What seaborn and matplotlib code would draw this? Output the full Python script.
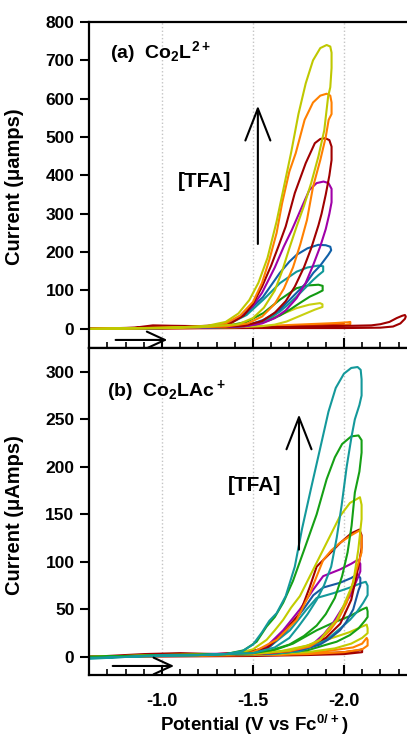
import numpy as np
import pandas as pd
import seaborn as sns
import matplotlib.pyplot as plt

# ---- panel (a) Co2L2+ : (potential V, current uA), forward then return sweep ----
a_yellow = [(-0.60, 0), (-0.90, 2), (-1.10, 4), (-1.25, 8), (-1.35, 18), (-1.42, 40), (-1.48, 75),
            (-1.53, 120), (-1.58, 185), (-1.63, 280), (-1.67, 370), (-1.71, 460), (-1.75, 560),
            (-1.79, 640), (-1.83, 700), (-1.87, 732), (-1.905, 740), (-1.925, 736), (-1.932, 720),
            (-1.932, 680), (-1.925, 630), (-1.913, 605), (-1.892, 518), (-1.86, 450), (-1.82, 380),
            (-1.78, 320), (-1.74, 267), (-1.70, 210), (-1.66, 150), (-1.62, 100), (-1.56, 55),
            (-1.50, 28), (-1.42, 12), (-1.20, 4), (-0.90, 1), (-0.60, 0)]
a_orange = [(-0.60, 0), (-0.90, 2), (-1.10, 4), (-1.25, 7), (-1.35, 14), (-1.43, 35), (-1.50, 70),
            (-1.55, 120), (-1.59, 180), (-1.63, 250), (-1.66, 327), (-1.70, 410), (-1.735, 458),
            (-1.784, 545), (-1.83, 590), (-1.87, 608), (-1.905, 613), (-1.925, 608), (-1.932, 590),
            (-1.932, 560), (-1.916, 545), (-1.90, 500), (-1.87, 440), (-1.83, 370), (-1.797, 284),
            (-1.76, 220), (-1.72, 160), (-1.67, 105), (-1.62, 65), (-1.55, 32), (-1.47, 14),
            (-1.35, 6), (-1.10, 3), (-0.60, 0)]
a_darkred = [(-0.60, 0), (-0.85, 3), (-0.95, 9), (-1.05, 8), (-1.20, 7), (-1.30, 9), (-1.38, 15),
             (-1.45, 35), (-1.50, 65), (-1.55, 110), (-1.60, 165), (-1.64, 215), (-1.68, 267),
             (-1.73, 354), (-1.79, 432), (-1.84, 484), (-1.87, 495), (-1.897, 497), (-1.92, 492),
             (-1.932, 475), (-1.932, 440), (-1.92, 400), (-1.90, 350), (-1.877, 300), (-1.86, 270),
             (-1.82, 210), (-1.78, 160), (-1.73, 110), (-1.68, 72), (-1.62, 42), (-1.55, 20),
             (-1.45, 8), (-1.30, 5), (-1.10, 5), (-0.90, 3), (-0.60, 0)]
a_purple = [(-0.60, 0), (-1.00, 3), (-1.20, 5), (-1.35, 12), (-1.43, 30), (-1.50, 60), (-1.55, 94),
            (-1.62, 160), (-1.67, 215), (-1.714, 258), (-1.77, 319), (-1.81, 362), (-1.85, 380),
            (-1.888, 384), (-1.915, 380), (-1.932, 365), (-1.932, 330), (-1.92, 300), (-1.90, 260),
            (-1.87, 215), (-1.83, 165), (-1.79, 120), (-1.74, 80), (-1.68, 48), (-1.62, 28),
            (-1.55, 14), (-1.45, 6), (-1.20, 3), (-0.60, 0)]
a_blue = [(-0.60, 0), (-1.00, 3), (-1.20, 5), (-1.30, 9), (-1.374, 16), (-1.465, 42), (-1.555, 83),
          (-1.648, 146), (-1.70, 175), (-1.74, 193), (-1.80, 210), (-1.859, 219), (-1.90, 218),
          (-1.925, 214), (-1.93, 205), (-1.914, 193), (-1.87, 165), (-1.832, 146), (-1.79, 118),
          (-1.74, 94), (-1.69, 70), (-1.648, 50), (-1.60, 35), (-1.555, 23), (-1.465, 8),
          (-1.30, 4), (-1.00, 2), (-0.60, 0)]
a_teal = [(-0.60, 0), (-1.00, 3), (-1.20, 5), (-1.30, 9), (-1.38, 16), (-1.465, 36), (-1.557, 76),
          (-1.648, 119), (-1.74, 149), (-1.80, 160), (-1.86, 165), (-1.886, 163), (-1.886, 150),
          (-1.86, 140), (-1.832, 128), (-1.79, 108), (-1.74, 84), (-1.69, 62), (-1.648, 45),
          (-1.60, 30), (-1.557, 19), (-1.47, 8), (-1.30, 4), (-0.60, 0)]
a_green = [(-0.60, 0), (-1.00, 3), (-1.20, 4), (-1.30, 7), (-1.38, 10), (-1.465, 18), (-1.557, 41),
           (-1.648, 76), (-1.74, 106), (-1.80, 113), (-1.86, 115), (-1.883, 112), (-1.883, 100),
           (-1.85, 92), (-1.813, 84), (-1.76, 68), (-1.703, 50), (-1.65, 35), (-1.593, 23),
           (-1.52, 12), (-1.40, 5), (-1.00, 2), (-0.60, 0)]
a_lime = [(-0.60, 0), (-1.00, 3), (-1.30, 6), (-1.45, 10), (-1.557, 19), (-1.648, 36), (-1.74, 54),
          (-1.81, 63), (-1.868, 67), (-1.882, 64), (-1.882, 57), (-1.84, 50), (-1.795, 41),
          (-1.74, 30), (-1.685, 19), (-1.62, 11), (-1.55, 7), (-1.40, 4), (-0.60, 0)]
a_orange2 = [(-0.60, 0), (-1.00, 3), (-1.40, 5), (-1.60, 8), (-1.80, 12), (-1.95, 15), (-2.02, 17),
             (-2.035, 18), (-2.035, 12), (-2.00, 9), (-1.90, 6), (-1.70, 4), (-1.40, 3), (-0.60, 0)]
a_red = [(-0.60, 0), (-1.00, 2), (-1.40, 4), (-1.60, 6), (-1.80, 9), (-1.95, 12), (-2.00, 13),
         (-2.00, 8), (-1.90, 5), (-1.70, 3), (-1.40, 2), (-0.60, 0)]
a_darkred2 = [(-0.60, 0), (-1.00, 2), (-1.50, 2), (-2.00, 2), (-2.20, 3), (-2.27, 6), (-2.31, 14),
              (-2.335, 26), (-2.34, 32), (-2.335, 36), (-2.32, 34), (-2.29, 28), (-2.25, 18),
              (-2.20, 12), (-2.15, 9), (-2.05, 8), (-1.90, 7), (-1.70, 5), (-1.40, 3), (-0.60, 0)]

# ---- panel (b) Co2LAc+ ----
b_teal = [(-0.60, -2), (-0.80, 0), (-1.00, 2), (-1.20, 2), (-1.35, 3), (-1.44, 6), (-1.50, 13),
          (-1.55, 26), (-1.59, 38), (-1.63, 46), (-1.68, 64), (-1.73, 95), (-1.77, 135),
          (-1.82, 178), (-1.87, 220), (-1.915, 258), (-1.955, 283), (-2.00, 298), (-2.04, 304),
          (-2.075, 305), (-2.092, 302), (-2.097, 292), (-2.097, 275), (-2.085, 265), (-2.06, 250),
          (-2.042, 232), (-2.015, 200), (-1.987, 159), (-1.96, 125), (-1.93, 95), (-1.89, 75),
          (-1.85, 60), (-1.80, 45), (-1.75, 32), (-1.70, 20), (-1.62, 10), (-1.50, 4),
          (-1.20, 2), (-0.60, -1)]
b_green = [(-0.60, 0), (-1.00, 2), (-1.35, 3), (-1.45, 7), (-1.52, 16), (-1.575, 32), (-1.62, 42),
           (-1.666, 57), (-1.72, 80), (-1.78, 112), (-1.85, 150), (-1.905, 187), (-1.95, 210),
           (-1.99, 224), (-2.04, 232), (-2.08, 233), (-2.097, 228), (-2.097, 215), (-2.085, 195),
           (-2.06, 173), (-2.042, 138), (-2.02, 110), (-1.99, 85), (-1.95, 62), (-1.90, 45),
           (-1.85, 33), (-1.78, 22), (-1.70, 13), (-1.60, 7), (-1.50, 4), (-1.20, 2), (-0.60, 0)]
b_yellow = [(-0.60, 0), (-1.00, 2), (-1.40, 3), (-1.50, 8), (-1.575, 18), (-1.62, 28), (-1.666, 39),
            (-1.71, 52), (-1.758, 64), (-1.813, 85), (-1.868, 106), (-1.923, 127), (-1.978, 148),
            (-2.033, 162), (-2.088, 168), (-2.097, 160), (-2.097, 145), (-2.079, 113), (-2.051, 78),
            (-1.996, 53), (-1.96, 39), (-1.91, 28), (-1.868, 18), (-1.80, 12), (-1.70, 7),
            (-1.55, 4), (-1.20, 2), (-0.60, 0)]
b_darkred = [(-0.60, 0), (-0.90, 3), (-1.10, 4), (-1.30, 3), (-1.45, 5), (-1.575, 9), (-1.666, 25),
             (-1.758, 46), (-1.813, 74), (-1.85, 95), (-1.923, 109), (-1.98, 120), (-2.04, 130),
             (-2.085, 134), (-2.097, 128), (-2.097, 115), (-2.08, 95), (-2.04, 60), (-1.98, 35),
             (-1.90, 20), (-1.80, 11), (-1.70, 6), (-1.50, 3), (-1.10, 2), (-0.60, 0)]
b_orange = [(-0.60, 0), (-1.00, 2), (-1.40, 3), (-1.50, 5), (-1.63, 18), (-1.74, 39), (-1.813, 67),
            (-1.886, 102), (-1.93, 112), (-1.978, 120), (-2.04, 128), (-2.085, 133), (-2.097, 126),
            (-2.097, 110), (-2.069, 92), (-2.04, 72), (-2.015, 57), (-1.97, 40), (-1.923, 28),
            (-1.87, 18), (-1.813, 11), (-1.70, 6), (-1.50, 3), (-1.10, 2), (-0.60, 0)]
b_purple = [(-0.60, 0), (-1.00, 2), (-1.45, 4), (-1.52, 7), (-1.575, 11), (-1.666, 28), (-1.758, 50),
            (-1.832, 71), (-1.886, 85), (-1.978, 92), (-2.04, 98), (-2.075, 102), (-2.09, 98),
            (-2.09, 90), (-2.08, 85), (-2.033, 64), (-1.98, 48), (-1.941, 36), (-1.89, 24),
            (-1.832, 14), (-1.75, 8), (-1.60, 4), (-1.20, 2), (-0.60, 0)]
b_blue = [(-0.60, 0), (-1.00, 2), (-1.45, 3), (-1.52, 6), (-1.593, 11), (-1.685, 28), (-1.777, 50),
          (-1.832, 65), (-1.886, 73), (-1.978, 78), (-2.04, 83), (-2.075, 87), (-2.09, 83),
          (-2.09, 75), (-2.08, 70), (-2.051, 50), (-2.01, 36), (-1.978, 28), (-1.92, 19),
          (-1.868, 13), (-1.78, 8), (-1.60, 4), (-1.20, 2), (-0.60, 0)]
b_teal2 = [(-0.60, 0), (-1.00, 2), (-1.45, 3), (-1.52, 6), (-1.593, 11), (-1.703, 28), (-1.795, 50),
           (-1.85, 62), (-1.941, 67), (-2.033, 73), (-2.10, 78), (-2.12, 79), (-2.13, 75),
           (-2.13, 65), (-2.106, 57), (-2.07, 47), (-2.033, 39), (-1.98, 30), (-1.923, 21),
           (-1.85, 13), (-1.758, 6), (-1.60, 3), (-1.20, 2), (-0.60, 0)]
b_green2 = [(-0.60, 0), (-1.00, 2), (-1.50, 3), (-1.60, 6), (-1.72, 14), (-1.85, 28), (-1.941, 36),
            (-2.033, 43), (-2.10, 50), (-2.125, 52), (-2.13, 48), (-2.13, 42), (-2.115, 38),
            (-2.08, 30), (-2.033, 23), (-1.96, 16), (-1.905, 13), (-1.80, 7), (-1.65, 4),
            (-1.20, 2), (-0.60, 0)]
b_yellow2 = [(-0.60, 0), (-1.00, 2), (-1.50, 3), (-1.65, 6), (-1.80, 12), (-1.92, 19), (-2.03, 26),
             (-2.10, 32), (-2.125, 34), (-2.13, 30), (-2.13, 25), (-2.10, 20), (-2.04, 14),
             (-1.95, 9), (-1.80, 5), (-1.60, 3), (-0.60, 0)]
b_orange2 = [(-0.60, 0), (-1.00, 2), (-1.50, 2), (-1.70, 3), (-1.90, 6), (-2.05, 10), (-2.10, 14),
             (-2.125, 20), (-2.13, 18), (-2.13, 12), (-2.10, 8), (-2.00, 5), (-1.80, 3),
             (-1.50, 2), (-0.60, 0)]
b_red = [(-0.60, 0), (-1.00, 2), (-1.50, 2), (-1.80, 3), (-2.00, 5), (-2.08, 7), (-2.10, 8),
         (-2.10, 5), (-2.00, 3), (-1.80, 2), (-1.50, 1), (-0.60, 0)]

loops_a = [("a_red", a_red, "#e02a00"), ("a_orange2", a_orange2, "#ff8000"),
           ("a_darkred2", a_darkred2, "#a00000"), ("a_lime", a_lime, "#c8d010"),
           ("a_green", a_green, "#129a12"), ("a_teal", a_teal, "#109898"),
           ("a_blue", a_blue, "#1060a8"), ("a_purple", a_purple, "#a000a8"),
           ("a_darkred", a_darkred, "#a00000"), ("a_orange", a_orange, "#ff8000"),
           ("a_yellow", a_yellow, "#bfc800")]
loops_b = [("b_red", b_red, "#a00000"), ("b_orange2", b_orange2, "#ff8000"),
           ("b_yellow2", b_yellow2, "#c2cc00"), ("b_green2", b_green2, "#15a015"),
           ("b_teal2", b_teal2, "#14999b"), ("b_blue", b_blue, "#1858a0"),
           ("b_purple", b_purple, "#a000a8"), ("b_darkred", b_darkred, "#a00000"),
           ("b_orange", b_orange, "#ff8000"), ("b_yellow", b_yellow, "#c2cc00"),
           ("b_green", b_green, "#15a015"), ("b_teal", b_teal, "#14999b")]


def to_frame(loops):
    rows = []
    for name, pts, _ in loops:
        for v, i in pts:
            rows.append((name, v, i))
    return pd.DataFrame(rows, columns=["loop", "V", "I"])


sns.set_style("ticks")
plt.rcParams["font.family"] = ["Liberation Sans", "DejaVu Sans"]
plt.rcParams["font.weight"] = "bold"
plt.rcParams["mathtext.fontset"] = "custom"
plt.rcParams["mathtext.bf"] = "Liberation Sans:bold"
plt.rcParams["mathtext.rm"] = "Liberation Sans:bold"
plt.rcParams["mathtext.default"] = "bf"
for key in ("text.color", "axes.labelcolor", "xtick.color", "ytick.color", "axes.edgecolor"):
    plt.rcParams[key] = "black"

fig = plt.figure(figsize=(4.07, 7.39), dpi=100)
ax1 = fig.add_axes([89 / 407, 1 - 348 / 739, 331 / 407, 326 / 739])
ax2 = fig.add_axes([89 / 407, 1 - 675 / 739, 331 / 407, 327 / 739])

for ax, loops in ((ax1, loops_a), (ax2, loops_b)):
    df = to_frame(loops)
    pal = {name: c for name, _, c in loops}
    for v in (-1.0, -1.5, -2.0):
        ax.axvline(v, color="#c4c4c4", ls=":", lw=1.0, zorder=0)
    sns.lineplot(data=df, x="V", y="I", hue="loop", palette=pal, sort=False,
                 estimator=None, legend=False, lw=1.5, ax=ax)
    ax.set_xlim(-0.599, -2.418)
    for s in ax.spines.values():
        s.set_linewidth(1.6)
    ax.xaxis.set_major_locator(plt.MultipleLocator(0.5))
    ax.xaxis.set_minor_locator(plt.MultipleLocator(0.1))
    ax.tick_params(axis="y", direction="out", length=6.5, width=1.5, labelsize=12.5, pad=4)
    ax.set_xlabel("")

ax1.set_ylim(-50, 800)
ax1.set_yticks(range(0, 801, 100))
ax1.tick_params(axis="x", which="major", direction="inout", length=14, width=1.5, labelbottom=False)
ax1.tick_params(axis="x", which="minor", direction="in", length=4, width=1.2)
ax1.set_ylabel("Current (\u03bcamps)", fontsize=14.5, fontweight="bold")
ax1.yaxis.set_label_coords(-0.196, 0.494)

ax2.set_ylim(-19, 325)
ax2.set_yticks(range(0, 301, 50))
ax2.tick_params(axis="x", which="major", direction="in", length=7, width=1.5, labelsize=13, pad=13)
ax2.tick_params(axis="x", which="minor", direction="in", length=4, width=1.2)
ax2.set_xticks([-1.0, -1.5, -2.0])
ax2.set_xticklabels(["-1.0", "-1.5", "-2.0"])
ax2.set_ylabel("Current (\u03bcAmps)", fontsize=14.5, fontweight="bold")
ax2.yaxis.set_label_coords(-0.196, 0.49)

fig.text(254 / 407, 2 / 739, "Potential (V vs Fc$^{0/+}$)", ha="center", va="bottom",
         fontsize=13.5, fontweight="bold")

ax1.text(-0.714, 722, "(a)  Co$_2$L$^{2+}$", ha="left", va="center", fontsize=14, fontweight="bold")
ax2.text(-0.698, 280, "(b)  Co$_2$LAc$^+$", ha="left", va="center", fontsize=14, fontweight="bold")
ax1.text(-1.236, 383, "[TFA]", ha="center", va="center", fontsize=15, fontweight="bold")
ax2.text(-1.511, 180, "[TFA]", ha="center", va="center", fontsize=15, fontweight="bold")

big = dict(arrowstyle="->,head_length=2.3,head_width=0.9", lw=1.5, color="black")
small = dict(arrowstyle="->,head_length=1.3,head_width=0.6", lw=1.5, color="black")
ax1.annotate("", xy=(-1.527, 589), xytext=(-1.527, 214), arrowprops=big)
ax2.annotate("", xy=(-1.753, 258), xytext=(-1.753, 110), arrowprops=big)
ax1.annotate("", xy=(-1.045, -29), xytext=(-0.73, -29), arrowprops=small)
ax2.annotate("", xy=(-1.082, -9.5), xytext=(-0.714, -9.5), arrowprops=small)

fig.savefig("out.png", dpi=100)
